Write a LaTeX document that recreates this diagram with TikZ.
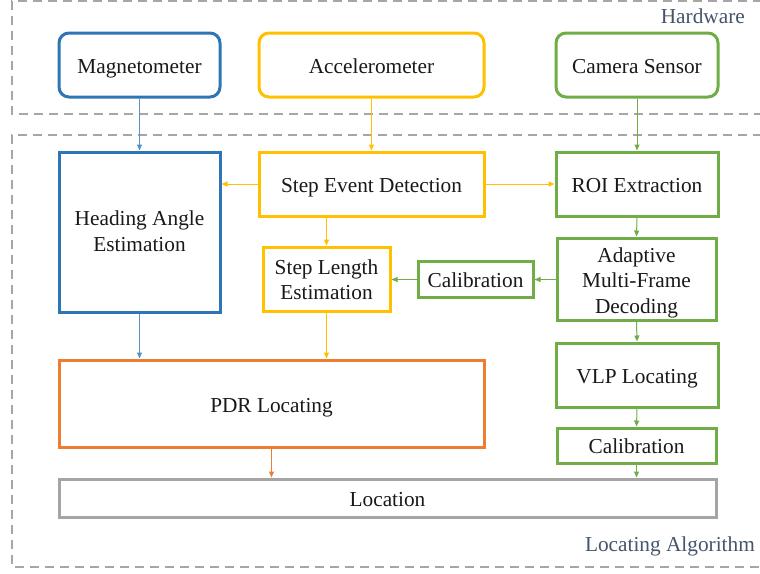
\documentclass[tikz,border=0pt]{standalone}
\usepackage{fontspec}
\setmainfont{Liberation Serif}
\usetikzlibrary{arrows.meta}
\definecolor{cblue}{HTML}{2E75B6}
\definecolor{cyel}{HTML}{FFC000}
\definecolor{cgreen}{HTML}{70AD47}
\definecolor{corange}{HTML}{ED7D31}
\definecolor{cgray}{HTML}{A5A5A5}
\definecolor{cdash}{HTML}{A6A6A6}
\definecolor{cslate}{HTML}{44546A}
\tikzset{
  box/.style={draw, line width=3pt, fill=white, inner sep=0pt},
  hw/.style={box, rounded corners=10pt},
  txt/.style={text=black!90, align=center, inner sep=0pt, font=\rmfamily\fontsize{21.3}{25.4}\selectfont},
  conn/.style={line width=1pt, -{Triangle[length=6pt,width=5pt]}},
  grp/.style={draw=cdash, line width=2.8pt, dash pattern=on 9pt off 6pt},
  grplabel/.style={text=cslate, font=\rmfamily\fontsize{21.3}{25.4}\selectfont, inner sep=0pt},
}
\newcommand{\sline}[1]{\strut#1}
\begin{document}
\begin{tikzpicture}[x=1pt,y=-1pt]
\useasboundingbox (0,0) rectangle (760,573);
% group frames
\draw[grp] (762,1) -- (12,1) -- (12,114) -- (762,114);
\draw[grp] (762,135) -- (12,135) -- (12,567) -- (762,567);
\node[grplabel, anchor=base east] (hwlab) at (745,23.3) {Hardware};
\node[grplabel, anchor=base east] (alglab) at (755,551.5) {Locating Algorithm};
% hardware
\node[hw, draw=cblue, minimum width=161pt, minimum height=64pt] (mag) at (139.5,65) {};
\node[hw, draw=cyel, minimum width=225pt, minimum height=64pt] (acc) at (371.5,65) {};
\node[hw, draw=cgreen, minimum width=162pt, minimum height=64pt] (cam) at (637,65) {};
% algorithm
\node[box, draw=cblue, minimum width=161pt, minimum height=160pt] (head) at (139.5,232) {};
\node[box, draw=cyel, minimum width=225pt, minimum height=64pt] (sed) at (371.5,184) {};
\node[box, draw=cgreen, minimum width=162pt, minimum height=64pt] (roi) at (637,184) {};
\node[box, draw=cyel, minimum width=127pt, minimum height=64pt] (sle) at (326.5,279) {};
\node[box, draw=cgreen, minimum width=115pt, minimum height=36pt] (cal1) at (475.5,279.5) {};
\node[box, draw=cgreen, minimum width=159pt, minimum height=82pt] (amf) at (636.5,279) {};
\node[box, draw=cgreen, minimum width=162pt, minimum height=64pt] (vlp) at (637,375) {};
\node[box, draw=cgreen, minimum width=159pt, minimum height=35pt] (cal2) at (636.5,445.5) {};
\node[box, draw=corange, minimum width=425pt, minimum height=87pt] (pdr) at (271.5,403.5) {};
\node[box, draw=cgray, minimum width=657pt, minimum height=38pt] (loc) at (387.5,498) {};
% texts
\node[txt] (tmag) at ([yshift=-3.6pt]mag.center) {\sline{Magnetometer}};
\node[txt] (tacc) at ([yshift=-3.6pt]acc.center) {\sline{Accelerometer}};
\node[txt] (tcam) at ([yshift=-3.3pt]cam.center) {\sline{Camera Sensor}};
\node[txt] (thead) at ([yshift=-1.3pt]head.center) {\sline{Heading Angle}\\\sline{Estimation}};
\node[txt] (tsed) at ([yshift=-3.3pt]sed.center) {\sline{Step Event Detection}};
\node[txt] (troi) at ([yshift=-3.3pt]roi.center) {\sline{ROI Extraction}};
\node[txt] (tsle) at ([yshift=-2.8pt]sle.center) {\sline{Step Length}\\\sline{Estimation}};
\node[txt] (tcal1) at ([yshift=-2.8pt]cal1.center) {\sline{Calibration}};
\node[txt] (tamf) at ([yshift=-3.8pt]amf.center) {\sline{Adaptive}\\\sline{Multi-Frame}\\\sline{Decoding}};
\node[txt] (tvlp) at ([yshift=-3.3pt]vlp.center) {\sline{VLP Locating}};
\node[txt] (tcal2) at ([yshift=-2.8pt]cal2.center) {\sline{Calibration}};
\node[txt] (tpdr) at ([yshift=-4pt]pdr.center) {\sline{PDR Locating}};
\node[txt] (tloc) at ([yshift=-3pt]loc.center) {\sline{Location}};
% connectors
\draw[conn, cblue!80] (mag.south) -- (head.north);
\draw[conn, cyel] (acc.south) -- (sed.north);
\draw[conn, cgreen] (cam.south) -- (roi.north);
\draw[conn, cyel] (sed.west) -- (head.east |- sed.west);
\draw[conn, cyel] (sed.east) -- (roi.west);
\draw[conn, cyel] (sle.north |- sed.south) -- (sle.north);
\draw[conn, cgreen] (roi.south) -- (amf.north);
\draw[conn, cgreen] (amf.west |- cal1.east) -- (cal1.east);
\draw[conn, cgreen] (cal1.west) -- (sle.east |- cal1.west);
\draw[conn, cgreen] (amf.south) -- (vlp.north);
\draw[conn, cgreen] (vlp.south) -- (cal2.north);
\draw[conn, cgreen] (cal2.south) -- (cal2.south |- loc.north);
\draw[conn, cblue!80] (head.south) -- (head.south |- pdr.north);
\draw[conn, cyel] (sle.south) -- (sle.south |- pdr.north);
\draw[conn, corange] (pdr.south) -- (pdr.south |- loc.north);
\end{tikzpicture}
\end{document}
